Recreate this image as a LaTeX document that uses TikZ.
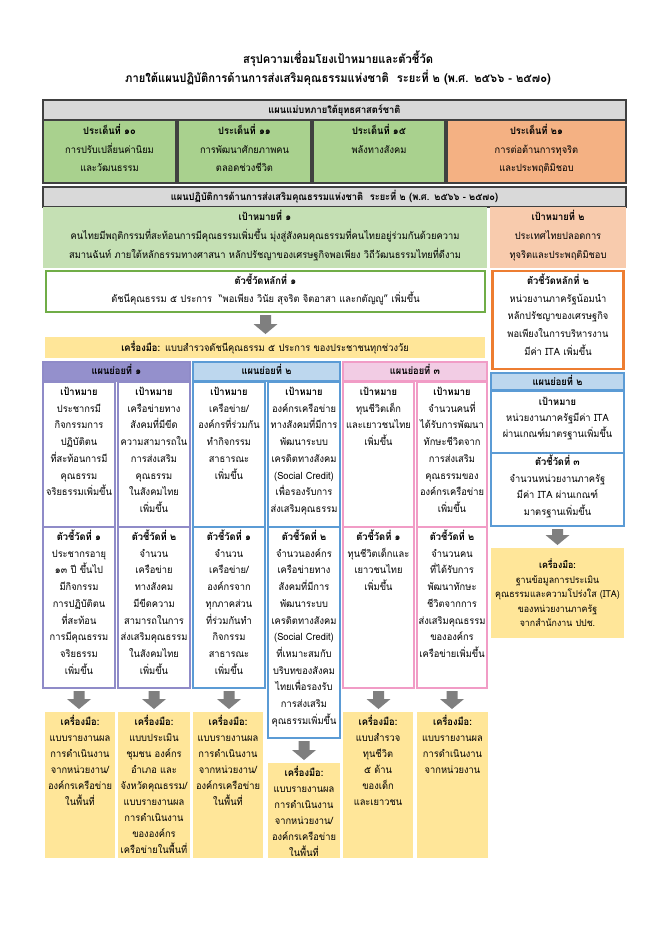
\documentclass[tikz,border=0pt]{standalone}
\usepackage{fontspec}
\newfontfamily\thai[Script=Thai,FakeStretch=0.93]{Loma}
\usetikzlibrary{calc}
\definecolor{dk}{HTML}{404040}
\definecolor{hdrgray}{HTML}{D9D9D9}
\definecolor{grn}{HTML}{A9D18E}
\definecolor{org}{HTML}{F4B183}
\definecolor{lgrn}{HTML}{C5E0B4}
\definecolor{lorg}{HTML}{F8CBAD}
\definecolor{kgrn}{HTML}{70AD47}
\definecolor{korg}{HTML}{ED7D31}
\definecolor{yel}{HTML}{FFE699}
\definecolor{purh}{HTML}{9490CC}
\definecolor{purb}{HTML}{8F8BC8}
\definecolor{blueh}{HTML}{BDD7EE}
\definecolor{blueb}{HTML}{5B9BD5}
\definecolor{pinkh}{HTML}{F2CCE4}
\definecolor{pinkb}{HTML}{F19CC6}
\definecolor{arrowgray}{HTML}{7F7F7F}
\newcommand\blockarrow[2]{%
  \fill[arrowgray] let \p1=(#1.south), \p2=(#2.north) in
  (\x1-5.5pt,\y1-3pt) -- (\x1+5.5pt,\y1-3pt) -- (\x1+5.5pt,\y2+13pt) --
  (\x1+12pt,\y2+13pt) -- (\x1,\y2+3pt) -- (\x1-12pt,\y2+13pt) --
  (\x1-5.5pt,\y2+13pt) -- cycle;}
\begin{document}
\begin{tikzpicture}[x=1pt,y=-1pt,
  bx/.style={inner sep=0pt, outer sep=0pt, anchor=north west, line width=1.1pt},
  tx/.style={inner sep=0pt, anchor=base, align=center, text width=#1,
    font=\thai\fontsize{10}{16.7}\selectfont},
  tx/.default=100pt,
  sk/.style={font=\thai\fontsize{10}{#1}\selectfont}]
\fill[white] (0,0) rectangle (656,929);
\useasboundingbox (0,0) rectangle (656,929);

% title
\node[tx=560pt, font=\thai\bfseries\fontsize{12}{19}\selectfont] (title) at (338,63.5)
  {สรุปความเชื่อมโยงเป้าหมายและตัวชี้วัด\\ภายใต้แผนปฏิบัติการด้านการส่งเสริมคุณธรรมแห่งชาติ~ ระยะที่ ๒ (พ.ศ. ๒๕๖๖ - ๒๕๗๐)};

% master plan
\node[bx, draw=dk, fill=hdrgray, minimum width=583pt, minimum height=20pt] (h1) at (43,100) {};
\node[bx, draw=dk, fill=grn, minimum width=133pt, minimum height=63pt] (b10) at (43,120) {};
\node[bx, draw=dk, fill=grn, minimum width=133pt, minimum height=63pt] (b11) at (178,120) {};
\node[bx, draw=dk, fill=grn, minimum width=132pt, minimum height=63pt] (b15) at (313,120) {};
\node[bx, draw=dk, fill=org, minimum width=179pt, minimum height=63pt] (b21) at (447,120) {};
\node[tx=400pt] (h1t) at (h1.center |- 0,113.5) {\bfseries แผนแม่บทภายใต้ยุทธศาสตร์ชาติ};
\node[tx=150pt, sk=18.5] (b10t) at (b10.center |- 0,134.5) {{\bfseries ประเด็นที่ ๑๐}\\การปรับเปลี่ยนค่านิยม\\และวัฒนธรรม};
\node[tx=150pt, sk=18.5] (b11t) at (b11.center |- 0,134.5) {{\bfseries ประเด็นที่ ๑๑}\\การพัฒนาศักยภาพคน\\ตลอดช่วงชีวิต};
\node[tx=150pt, sk=18.5] (b15t) at (b15.center |- 0,134.5) {{\bfseries ประเด็นที่ ๑๕}\\พลังทางสังคม};
\node[tx=170pt, sk=18.5] (b21t) at (b21.center |- 0,134.5) {{\bfseries ประเด็นที่ ๒๑}\\การต่อต้านการทุจริต\\และประพฤติมิชอบ};

% action plan
\node[bx, draw=dk, fill=hdrgray, minimum width=583pt, minimum height=20pt] (h2) at (43,187) {};
\node[tx=560pt] (h2t) at (h2.center |- 0,200.5) {\bfseries แผนปฏิบัติการด้านการส่งเสริมคุณธรรมแห่งชาติ~ ระยะที่ ๒ (พ.ศ. ๒๕๖๖ - ๒๕๗๐)};
\node[bx, fill=lgrn, minimum width=444pt, minimum height=61pt] (g1) at (43,207) {};
\node[bx, fill=lorg, minimum width=136pt, minimum height=61pt] (g2) at (490,207) {};
\node[tx=500pt, sk=19] (g1t) at (g1.center |- 0,220.5) {{\bfseries เป้าหมายที่ ๑}\\คนไทยมีพฤติกรรมที่สะท้อนการมีคุณธรรมเพิ่มขึ้น มุ่งสู่สังคมคุณธรรมที่คนไทยอยู่ร่วมกันด้วยความ\\สมานฉันท์ ภายใต้หลักธรรมทางศาสนา หลักปรัชญาของเศรษฐกิจพอเพียง วิถีวัฒนธรรมไทยที่ดีงาม};
\node[tx=150pt, sk=19] (g2t) at (g2.center |- 0,220.5) {{\bfseries เป้าหมายที่ ๒}\\ประเทศไทยปลอดการ\\ทุจริตและประพฤติมิชอบ};

% main KPIs
\node[bx, draw=kgrn, line width=2.5pt, fill=white, minimum width=439pt, minimum height=41pt] (k1) at (46,271) {};
\node[bx, draw=korg, line width=2.5pt, fill=white, minimum width=131pt, minimum height=98pt] (k2) at (492.5,271) {};
\node[tx=460pt, sk=18] (k1t) at (k1.center |- 0,284.5) {{\bfseries ตัวชี้วัดหลักที่ ๑}\\ดัชนีคุณธรรม ๕ ประการ~ “พอเพียง วินัย สุจริต จิตอาสา และกตัญญู” เพิ่มขึ้น};
\node[tx=150pt, sk=17.7] (k2t) at (k2.center |- 0,284.5) {{\bfseries ตัวชี้วัดหลักที่ ๒}\\หน่วยงานภาครัฐน้อมนำ\\หลักปรัชญาของเศรษฐกิจ\\พอเพียงในการบริหารงาน\\มีค่า ITA เพิ่มขึ้น};

\node[bx, fill=yel, minimum width=440pt, minimum height=21pt] (tb) at (45,337) {};
\node[tx=460pt] (tbt) at (tb.center |- 0,351.5) {{\bfseries เครื่องมือ:} แบบสำรวจดัชนีคุณธรรม ๕ ประการ ของประชาชนทุกช่วงวัย};
\blockarrow{k1}{tb}

% sub plan headers
\node[bx, draw=purb, fill=purh, minimum width=147pt, minimum height=19pt] (sp1) at (43,362) {};
\node[bx, draw=blueb, fill=blueh, minimum width=147pt, minimum height=19pt] (sp2) at (193,362) {};
\node[bx, draw=pinkb, fill=pinkh, minimum width=144pt, minimum height=19pt] (sp3) at (343,362) {};
\node[tx] (sp1t) at (sp1.center |- 0,374.5) {\bfseries แผนย่อยที่ ๑};
\node[tx] (sp2t) at (sp2.center |- 0,374.5) {\bfseries แผนย่อยที่ ๒};
\node[tx] (sp3t) at (sp3.center |- 0,374.5) {\bfseries แผนย่อยที่ ๓};

% column goal boxes
\node[bx, draw=purb, minimum width=72pt, minimum height=145pt] (c1g) at (43,382) {};
\node[bx, draw=purb, minimum width=72pt, minimum height=145pt] (c2g) at (118,382) {};
\node[bx, draw=blueb, minimum width=72pt, minimum height=145pt] (c3g) at (193,382) {};
\node[bx, draw=blueb, minimum width=72pt, minimum height=145pt] (c4g) at (268,382) {};
\node[bx, draw=pinkb, minimum width=71pt, minimum height=145pt] (c5g) at (343,382) {};
\node[bx, draw=pinkb, minimum width=70pt, minimum height=145pt] (c6g) at (417,382) {};
% column KPI boxes
\node[bx, draw=purb, minimum width=72pt, minimum height=161pt] (c1k) at (43,527) {};
\node[bx, draw=purb, minimum width=72pt, minimum height=161pt] (c2k) at (118,527) {};
\node[bx, draw=blueb, minimum width=72pt, minimum height=161pt] (c3k) at (193,527) {};
\node[bx, draw=blueb, minimum width=72pt, minimum height=211pt] (c4k) at (268,527) {};
\node[bx, draw=pinkb, minimum width=71pt, minimum height=161pt] (c5k) at (343,527) {};
\node[bx, draw=pinkb, minimum width=70pt, minimum height=161pt] (c6k) at (417,527) {};

\node[tx] (c1gt) at (c1g.center |- 0,395.5) {{\bfseries เป้าหมาย}\\ประชากรมี\\กิจกรรมการ\\ปฏิบัติตน\\ที่สะท้อนการมี\\คุณธรรม\\จริยธรรมเพิ่มขึ้น};
\node[tx] (c2gt) at (c2g.center |- 0,395.5) {{\bfseries เป้าหมาย}\\เครือข่ายทาง\\สังคมที่มีขีด\\ความสามารถใน\\การส่งเสริม\\คุณธรรม\\ในสังคมไทย\\เพิ่มขึ้น};
\node[tx] (c3gt) at (c3g.center |- 0,395.5) {{\bfseries เป้าหมาย}\\เครือข่าย/\\องค์กรที่ร่วมกัน\\ทำกิจกรรม\\สาธารณะ\\เพิ่มขึ้น};
\node[tx] (c4gt) at (c4g.center |- 0,395.5) {{\bfseries เป้าหมาย}\\องค์กรเครือข่าย\\ทางสังคมที่มีการ\\พัฒนาระบบ\\เครดิตทางสังคม\\(Social Credit)\\เพื่อรองรับการ\\ส่งเสริมคุณธรรม};
\node[tx] (c5gt) at (c5g.center |- 0,395.5) {{\bfseries เป้าหมาย}\\ทุนชีวิตเด็ก\\และเยาวชนไทย\\เพิ่มขึ้น};
\node[tx] (c6gt) at (c6g.center |- 0,395.5) {{\bfseries เป้าหมาย}\\จำนวนคนที่\\ได้รับการพัฒนา\\ทักษะชีวิตจาก\\การส่งเสริม\\คุณธรรมของ\\องค์กรเครือข่าย\\เพิ่มขึ้น};

\node[tx] (c1kt) at (c1k.center |- 0,540.5) {{\bfseries ตัวชี้วัดที่ ๑}\\ประชากรอายุ\\๑๓ ปี ขึ้นไป\\มีกิจกรรม\\การปฏิบัติตน\\ที่สะท้อน\\การมีคุณธรรม\\จริยธรรม\\เพิ่มขึ้น};
\node[tx] (c2kt) at (c2k.center |- 0,540.5) {{\bfseries ตัวชี้วัดที่ ๒}\\จำนวน\\เครือข่าย\\ทางสังคม\\มีขีดความ\\สามารถในการ\\ส่งเสริมคุณธรรม\\ในสังคมไทย\\เพิ่มขึ้น};
\node[tx] (c3kt) at (c3k.center |- 0,540.5) {{\bfseries ตัวชี้วัดที่ ๑}\\จำนวน\\เครือข่าย/\\องค์กรจาก\\ทุกภาคส่วน\\ที่ร่วมกันทำ\\กิจกรรม\\สาธารณะ\\เพิ่มขึ้น};
\node[tx] (c4kt) at (c4k.center |- 0,540.5) {{\bfseries ตัวชี้วัดที่ ๒}\\จำนวนองค์กร\\เครือข่ายทาง\\สังคมที่มีการ\\พัฒนาระบบ\\เครดิตทางสังคม\\(Social Credit)\\ที่เหมาะสมกับ\\บริบทของสังคม\\ไทยเพื่อรองรับ\\การส่งเสริม\\คุณธรรมเพิ่มขึ้น};
\node[tx] (c5kt) at (c5k.center |- 0,540.5) {{\bfseries ตัวชี้วัดที่ ๑}\\ทุนชีวิตเด็กและ\\เยาวชนไทย\\เพิ่มขึ้น};
\node[tx] (c6kt) at (c6k.center |- 0,540.5) {{\bfseries ตัวชี้วัดที่ ๒}\\จำนวนคน\\ที่ได้รับการ\\พัฒนาทักษะ\\ชีวิตจากการ\\ส่งเสริมคุณธรรม\\ขององค์กร\\เครือข่ายเพิ่มขึ้น};

% tool boxes
\node[bx, fill=yel, minimum width=70pt, minimum height=146pt] (t1) at (45,712) {};
\node[bx, fill=yel, minimum width=72pt, minimum height=146pt] (t2) at (118,712) {};
\node[bx, fill=yel, minimum width=70pt, minimum height=146pt] (t3) at (193,712) {};
\node[bx, fill=yel, minimum width=72pt, minimum height=95pt] (t4) at (268,763) {};
\node[bx, fill=yel, minimum width=70pt, minimum height=146pt] (t5) at (343,712) {};
\node[bx, fill=yel, minimum width=71pt, minimum height=146pt] (t6) at (417,712) {};
\blockarrow{c1k}{t1}
\blockarrow{c2k}{t2}
\blockarrow{c3k}{t3}
\blockarrow{c4k}{t4}
\blockarrow{c5k}{t5}
\blockarrow{c6k}{t6}
\node[tx, sk=16] (t1t) at (t1.center |- 0,725.5) {{\bfseries เครื่องมือ:}\\แบบรายงานผล\\การดำเนินงาน\\จากหน่วยงาน/\\องค์กรเครือข่าย\\ในพื้นที่};
\node[tx, sk=16] (t2t) at (t2.center |- 0,725.5) {{\bfseries เครื่องมือ:}\\แบบประเมิน\\ชุมชน องค์กร\\อำเภอ และ\\จังหวัดคุณธรรม/\\แบบรายงานผล\\การดำเนินงาน\\ขององค์กร\\เครือข่ายในพื้นที่};
\node[tx, sk=16] (t3t) at (t3.center |- 0,725.5) {{\bfseries เครื่องมือ:}\\แบบรายงานผล\\การดำเนินงาน\\จากหน่วยงาน/\\องค์กรเครือข่าย\\ในพื้นที่};
\node[tx, sk=16] (t4t) at (t4.center |- 0,776.5) {{\bfseries เครื่องมือ:}\\แบบรายงานผล\\การดำเนินงาน\\จากหน่วยงาน/\\องค์กรเครือข่าย\\ในพื้นที่};
\node[tx, sk=16] (t5t) at (t5.center |- 0,725.5) {{\bfseries เครื่องมือ:}\\แบบสำรวจ\\ทุนชีวิต\\๕ ด้าน\\ของเด็ก\\และเยาวชน};
\node[tx, sk=16] (t6t) at (t6.center |- 0,725.5) {{\bfseries เครื่องมือ:}\\แบบรายงานผล\\การดำเนินงาน\\จากหน่วยงาน};

% right column
\node[bx, draw=blueb, fill=blueh, minimum width=133pt, minimum height=17pt] (rsp) at (491,373) {};
\node[bx, draw=blueb, minimum width=133pt, minimum height=62pt] (rg) at (491,391) {};
\node[bx, draw=blueb, minimum width=133pt, minimum height=73pt] (rk) at (491,453) {};
\node[bx, fill=yel, minimum width=133pt, minimum height=90pt] (rt) at (491,548) {};
\blockarrow{rk}{rt}
\node[tx=150pt] (rspt) at (rsp.center |- 0,385) {\bfseries แผนย่อยที่ ๒};
\node[tx=150pt, sk=16] (rgt) at (rg.center |- 0,405.5) {{\bfseries เป้าหมาย}\\หน่วยงานภาครัฐมีค่า ITA\\ผ่านเกณฑ์มาตรฐานเพิ่มขึ้น};
\node[tx=150pt, sk=16.7] (rkt) at (rk.center |- 0,465.5) {{\bfseries ตัวชี้วัดที่ ๓}\\จำนวนหน่วยงานภาครัฐ\\มีค่า ITA ผ่านเกณฑ์\\มาตรฐานเพิ่มขึ้น};
\node[tx=150pt, font=\thai\fontsize{9.5}{14.5}\selectfont] (rtt) at (rt.center |- 0,568.5) {{\bfseries เครื่องมือ:}\\ฐานข้อมูลการประเมิน\\คุณธรรมและความโปร่งใส (ITA)\\ของหน่วยงานภาครัฐ\\จากสำนักงาน ปปช.};
\end{tikzpicture}
\end{document}
